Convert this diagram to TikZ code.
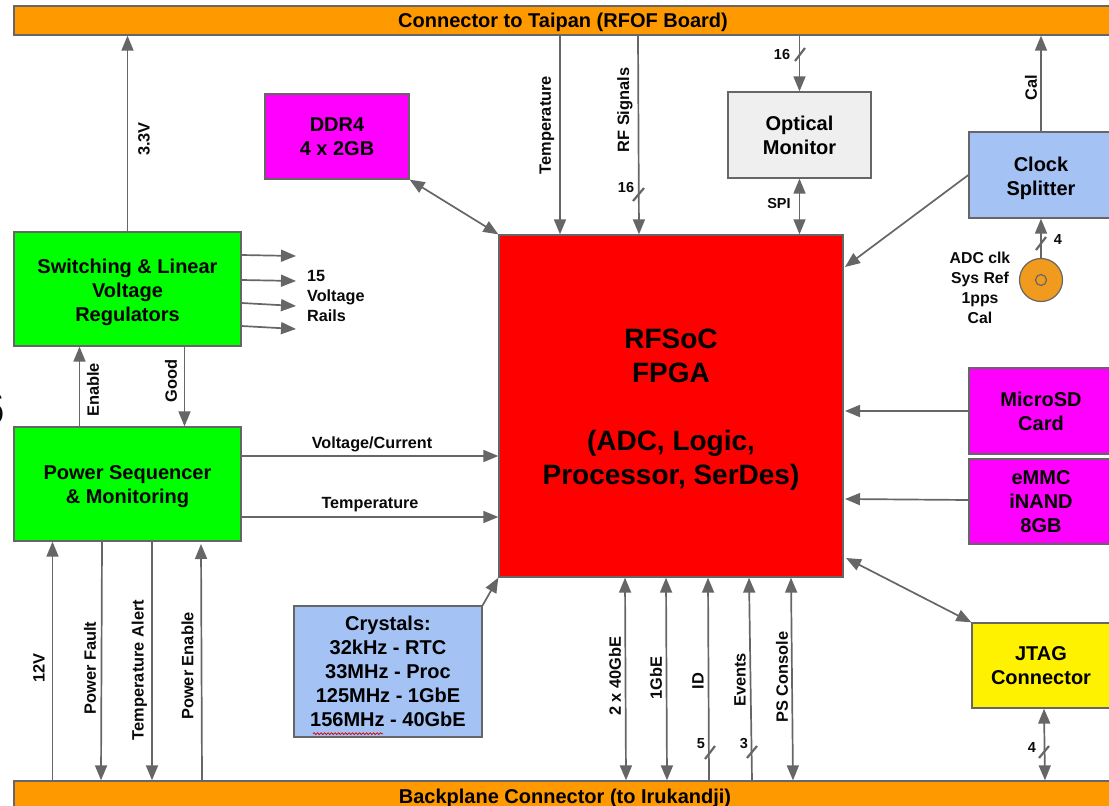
\documentclass[tikz,border=0pt]{standalone}
\usepackage{fontspec}
\setmainfont{Liberation Sans}
\usetikzlibrary{arrows.meta,decorations.pathmorphing}
\definecolor{ln}{HTML}{666666}
\definecolor{orangeb}{HTML}{FF9900}
\definecolor{blueb}{HTML}{A4C2F4}
\definecolor{grayb}{HTML}{EFEFEF}
\definecolor{magb}{HTML}{FF00FF}
\definecolor{txt}{HTML}{0A0A0A}
\definecolor{coaxc}{HTML}{F09A1E}
\newcommand{\firstline}[1]{\rule{0pt}{#1pt}}
\tikzset{
  box/.style={draw=ln,line width=1.3pt,inner sep=0pt,align=center,text=black,
     font=\fontsize{20}{24}\selectfont\bfseries},
  lab/.style={inner sep=0pt,text=txt,font=\fontsize{16.4}{20}\selectfont\bfseries},
  hlab/.style={inner sep=0pt,text=txt,font=\fontsize{16.2}{20}\selectfont\bfseries},
  rl/.style={lab,rotate=90},
  num/.style={inner sep=0pt,text=txt,font=\fontsize{14.5}{20}\selectfont\bfseries},
  conn/.style={draw=ln,line width=1.7pt},
  a/.style={conn,-{Triangle[length=15pt,width=12pt]}},
  ab/.style={conn,{Triangle[length=15pt,width=12pt]}-{Triangle[length=15pt,width=12pt]}},
  tick/.style={draw=ln,line width=2.2pt},
}
\begin{document}
\begin{tikzpicture}[x=1pt,y=-1pt]
\useasboundingbox (0,0) rectangle (1109,806);
\clip (0,0) rectangle (1109,806);
% boxes
\node[box,fill=orangeb,minimum width=1098pt,minimum height=29pt] (top) at (563,20.5) {\firstline{19}Connector to Taipan (RFOF Board)};
\node[box,fill=orangeb,minimum width=1102pt,minimum height=32pt] (bot) at (565,797) {\firstline{17}Backplane Connector (to Irukandji)};
\node[box,fill=green,minimum width=227pt,minimum height=114pt] (sw) at (127.5,289) {\firstline{21}Switching \& Linear\\Voltage\\Regulators};
\node[box,fill=green,minimum width=227pt,minimum height=114pt] (ps) at (127.5,484) {\firstline{19}Power Sequencer\\\& Monitoring};
\node[box,fill=magb,minimum width=144pt,minimum height=85pt] (ddr) at (337,136.5) {DDR4\\4 x 2GB};
\node[box,fill=red,minimum width=344pt,minimum height=342pt,font=\fontsize{28}{34}\selectfont\bfseries] (fpga) at (671,406) {\firstline{26.5}RFSoC\\FPGA\\[34pt](ADC, Logic,\\Processor, SerDes)};
\node[box,fill=grayb,minimum width=143pt,minimum height=86pt] (opt) at (799.5,135) {Optical\\Monitor};
\node[box,fill=blueb,minimum width=144pt,minimum height=86pt] (clk) at (1041,175) {\firstline{21}Clock\\Splitter};
\node[box,fill=magb,minimum width=144pt,minimum height=86pt] (sd) at (1041,411) {MicroSD\\Card};
\node[box,fill=magb,minimum width=144pt,minimum height=85pt] (emmc) at (1041,501.5) {eMMC\\iNAND\\8GB};
\node[box,fill=yellow,minimum width=138pt,minimum height=85pt] (jtag) at (1041,665.5) {JTAG\\Connector};
\node[box,fill=blueb,minimum width=188pt,minimum height=131pt] (xtal) at (388,671.5) {Crystals:\\32kHz - RTC\\33MHz - Proc\\125MHz - 1GbE\\156MHz - 40GbE};
\draw[red!85!black,line width=.8pt,decorate,decoration={snake,amplitude=.9pt,segment length=3.5pt}] (xtal.south west -| 313,0) ++(0,-4) -- ++(70,0);
% clock input
\node[circle,draw=ln,line width=1.2pt,fill=coaxc,minimum size=43pt,inner sep=0pt] (coax) at (1041,280) {};
\node[circle,draw=ln,line width=1.2pt,minimum size=11pt,inner sep=0pt] (coaxin) at (1041,280) {};
% stray clipped glyph at the left edge
\node[inner sep=0pt,anchor=east,font=\fontsize{46}{46}\selectfont,text=txt] (stray) at (5.5,409) {6};
% connectors
\draw[a] (sw.north -| 127.5,0) -- (top.south -| 127.5,0);
\node[rl] (l33) at (144,139) {3.3V};
\draw[ab] (ddr.south east) -- (fpga.north west);
\draw[a] (top.south -| 560,0) -- (fpga.north -| 560,0);
\node[rl] (ltemp) at (547,125) {Temperature};
\draw[a] (top.south -| 638,0) -- (fpga.north -| 639,0);
\node[rl] (lrf) at (625,110) {RF Signals};
\draw[tick] (633,201) -- (644,188);
\node[num] (n16a) at (626,188) {16};
\draw[a] (top.south -| 799.5,0) -- (opt.north);
\draw[tick] (795,61) -- (805,48);
\node[num] (n16b) at (782,55) {16};
\draw[ab] (opt.south) -- (fpga.north -| 799.5,0);
\node[hlab,font=\fontsize{14.5}{20}\selectfont\bfseries] (lspi) at (779,204) {SPI};
\draw[a] (clk.north) -- (top.south -| 1041,0);
\node[rl] (lcal) at (1031,88) {Cal};
\draw[a] (clk.west) -- (845,267);
\draw[a] (coax.north) -- (clk.south);
\draw[tick] (1036,250) -- (1046,237);
\node[num] (n4a) at (1058,240) {4};
\node[hlab,align=center,font=\fontsize{15.8}{20}\selectfont\bfseries] (lclk) at (980,288) {ADC clk\\Sys Ref\\1pps\\Cal};
\draw[a] (sw.east |- 0,255) -- (296,256);
\draw[a] (sw.east |- 0,280) -- (296,281);
\draw[a] (sw.east |- 0,303) -- (296,306);
\draw[a] (sw.east |- 0,326) -- (296,329);
\node[hlab,align=left,anchor=west] (lrails) at (307,296) {15\\Voltage\\Rails};
\draw[a] (ps.north -| 79.5,0) -- (sw.south -| 79.5,0);
\node[rl] (len) at (93,390) {Enable};
\draw[a] (sw.south -| 184.5,0) -- (ps.north -| 184.5,0);
\node[rl] (lgood) at (171,381) {Good};
\draw[a] (ps.east |- 0,456) -- (fpga.west |- 0,456);
\node[hlab] (lvc) at (372,444) {Voltage/Current};
\draw[a] (ps.east |- 0,517) -- (fpga.west |- 0,517);
\node[hlab] (lt2) at (370,505) {Temperature};
\draw[a] (bot.north -| 52.5,0) -- (ps.south -| 52.5,0);
\node[rl] (l12) at (39,668) {12V};
\draw[a] (ps.south -| 102,0) -- (bot.north -| 101,0);
\node[rl] (lpf) at (90,668) {Power Fault};
\draw[a] (ps.south -| 152,0) -- (bot.north -| 152,0);
\node[rl] (lta) at (139.5,670) {Temperature Alert};
\draw[a] (bot.north -| 202,0) -- (201,544);
\node[rl] (lpe) at (187.5,666) {Power Enable};
\draw[a] (xtal.north east) -- (fpga.south west);
\draw[ab] (fpga.south -| 625,0) -- (bot.north -| 626,0);
\node[rl] (l40) at (615,676) {2 x 40GbE};
\draw[ab] (fpga.south -| 666,0) -- (bot.north -| 667,0);
\node[rl] (l1g) at (656,678) {1GbE};
\draw[a] (bot.north -| 709,0) -- (fpga.south -| 708,0);
\node[rl] (lid) at (698,681) {ID};
\draw[tick] (705,759) -- (715,746);
\node[num] (n5) at (701,744) {5};
\draw[a] (bot.north -| 752,0) -- (fpga.south -| 749,0);
\node[rl] (lev) at (740,680) {Events};
\draw[tick] (747,758) -- (757,746);
\node[num] (n3) at (744,744) {3};
\draw[ab] (fpga.south -| 791,0) -- (bot.north -| 793,0);
\node[rl] (lcon) at (782,677) {PS Console};
\draw[a] (sd.west) -- (845,411);
\draw[a] (emmc.west |- 0,500) -- (845,499);
\draw[ab] (846,558) -- (jtag.north west);
\draw[ab] (jtag.south -| 1044,0) -- (bot.north -| 1045,0);
\draw[tick] (1039,758) -- (1049,746);
\node[num] (n4b) at (1032,748) {4};
\end{tikzpicture}
\end{document}
